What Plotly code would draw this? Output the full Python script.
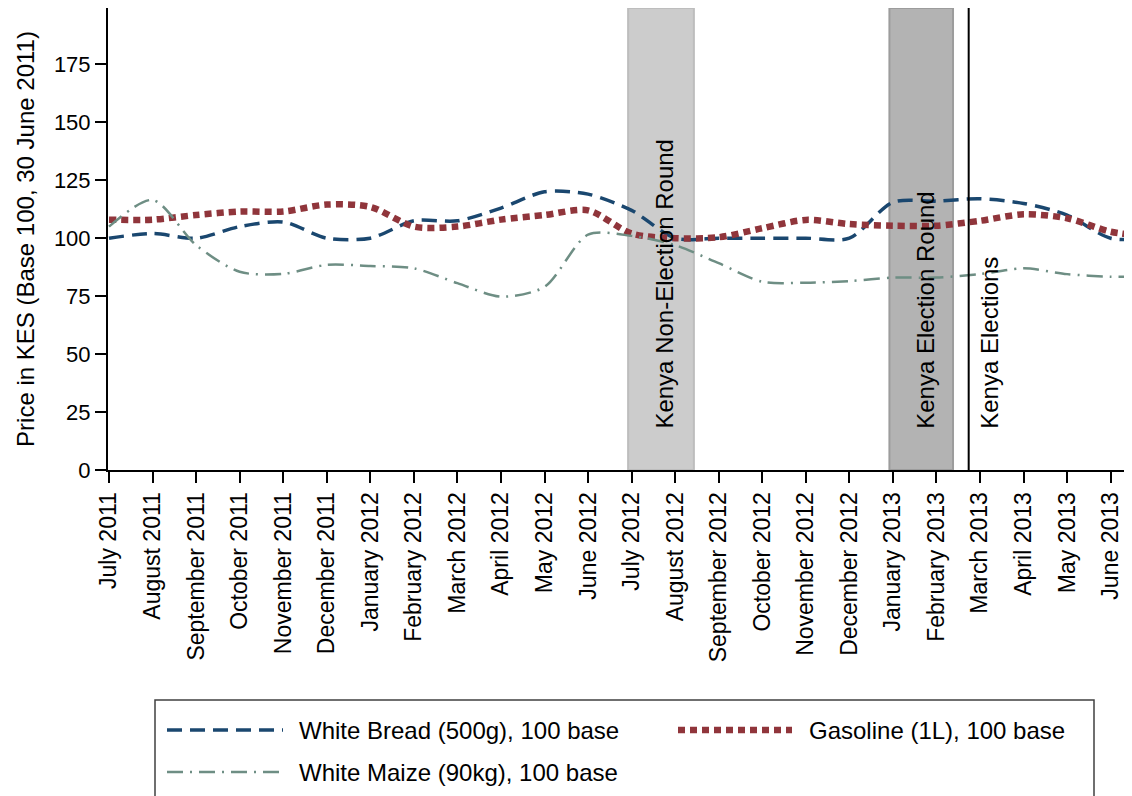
import plotly.graph_objects as go

# ---------------- data ----------------
months = ["July 2011", "August 2011", "September 2011", "October 2011", "November 2011",
          "December 2011", "January 2012", "February 2012", "March 2012", "April 2012",
          "May 2012", "June 2012", "July 2012", "August 2012", "September 2012",
          "October 2012", "November 2012", "December 2012", "January 2013",
          "February 2013", "March 2013", "April 2013", "May 2013", "June 2013", "July 2013"]
month_index = list(range(len(months)))

bread = [100, 102, 100, 105, 107, 100, 100, 107.5, 107.5, 113, 120, 119, 112,
         100, 100, 100, 100, 100, 115.5, 116, 117, 115, 110, 100, 100]
gasoline = [108, 108, 110, 111.5, 111.5, 114.5, 113.5, 105, 105, 108, 110, 112, 102,
            100, 100.4, 104.3, 107.9, 106.1, 105.4, 105.4, 107.5, 110.3, 108.6, 102.8, 100.5]
maize = [105, 116.5, 97, 85.5, 84.6, 88.5, 88, 87, 80.6, 74.8, 79, 101.5, 101,
         97, 89.2, 81.2, 80.8, 81.5, 83, 83, 84.5, 87, 84.5, 83.4, 83.5]

series_names = ["White Bread (500g), 100 base", "Gasoline (1L), 100 base",
                "White Maize (90kg), 100 base"]

period_names = ["Kenya Non-Election Round", "Kenya Election Round"]
period_start = [11.92, 17.92]
period_end = [13.43, 19.38]
election_day = 19.74
election_label = "Kenya Elections"

y_ticks = [0, 25, 50, 75, 100, 125, 150, 175]

# ---------------- style ----------------
FONT = "Arial, Liberation Sans, sans-serif"
C_BREAD = "#1a476f"
C_GAS = "#90353b"
C_MAIZE = "#6e8e84"
D_BREAD = "15px,8px"
D_GAS = "7px,5px"
D_MAIZE = "16px,7px,2px,7px"

OFF = 8  # page body margin
W, H = 1132 - OFF, 796 - OFF
# plot area in screen pixels
SL, SR, ST, SB = 108, 1132, 8, 470
L, R, T, B = SL - OFF, SR - OFF, ST - OFF, SB - OFF


def px(x):
    return (x - SL) / (SR - SL)


def py(y):
    return (SB - y) / (SB - ST)


fig = go.Figure()
fig.add_trace(go.Scatter(x=month_index, y=bread, mode="lines", name=series_names[0],
                         line=dict(color=C_BREAD, width=3.5, dash=D_BREAD, shape="spline", smoothing=0.8),
                         showlegend=False))
fig.add_trace(go.Scatter(x=month_index, y=gasoline, mode="lines", name=series_names[1],
                         line=dict(color=C_GAS, width=6.5, dash=D_GAS, shape="spline", smoothing=0.8),
                         showlegend=False))
fig.add_trace(go.Scatter(x=month_index, y=maize, mode="lines", name=series_names[2],
                         line=dict(color=C_MAIZE, width=2.5, dash=D_MAIZE, shape="spline", smoothing=0.8),
                         showlegend=False))

shapes = []
annotations = []
fills = ["#cccccc", "#b3b3b3"]
borders = ["#bdbdbd", "#9c9c9c"]
for name, s, e, fc, bc in zip(period_names, period_start, period_end, fills, borders):
    shapes.append(dict(type="rect", xref="x", yref="paper", x0=s, x1=e, y0=0, y1=1,
                       fillcolor=fc, line=dict(color=bc, width=2), layer="below"))
    annotations.append(dict(x=(s + e) / 2, y=17, xref="x", yref="y", text=name,
                            textangle=-90, showarrow=False, xanchor="center", yanchor="bottom",
                            xshift=4, font=dict(family=FONT, size=24, color="black")))

shapes.append(dict(type="line", xref="x", yref="paper", x0=election_day, x1=election_day,
                   y0=0, y1=1, line=dict(color="black", width=2)))
annotations.append(dict(x=election_day, y=17, xref="x", yref="y", text=election_label,
                        textangle=-90, showarrow=False, xanchor="left", yanchor="bottom",
                        xshift=5, font=dict(family=FONT, size=24, color="black")))

# ---------------- custom legend (screen pixel positions) ----------------
shapes.append(dict(type="rect", xref="paper", yref="paper", x0=px(155), x1=px(1094),
                   y0=py(806), y1=py(700), line=dict(color="#404040", width=1.5),
                   fillcolor="rgba(0,0,0,0)"))
legend_items = [
    (series_names[0], C_BREAD, 3.5, D_BREAD, 167, 283, 297, 730),
    (series_names[1], C_GAS, 6.5, D_GAS, 678, 792, 807, 730),
    (series_names[2], C_MAIZE, 2.5, D_MAIZE, 167, 283, 297, 772),
]
for name, col, wd, ds, sx0, sx1, tx, ty in legend_items:
    shapes.append(dict(type="line", xref="paper", yref="paper", x0=px(sx0), x1=px(sx1),
                       y0=py(ty), y1=py(ty), line=dict(color=col, width=wd, dash=ds)))
    annotations.append(dict(x=px(tx), y=py(ty), xref="paper", yref="paper", text=name,
                            showarrow=False, xanchor="left", yanchor="middle",
                            font=dict(family=FONT, size=24, color="black")))

fig.update_layout(
    width=W, height=H,
    margin=dict(l=L, r=W - R, t=T, b=H - B, pad=0, autoexpand=False),
    paper_bgcolor="white", plot_bgcolor="white",
    font=dict(family=FONT, size=23, color="black"),
    shapes=shapes, annotations=annotations,
    showlegend=False,
)
fig.update_xaxes(
    range=[-0.023, 23.49], tickmode="array", tickvals=month_index[:-1], ticktext=months[:-1],
    tickangle=-90, ticks="outside", ticklen=11, tickwidth=1.5, tickcolor="black",
    showline=True, linecolor="black", linewidth=2, mirror=True,
    showgrid=False, zeroline=False, tickfont=dict(family=FONT, size=23, color="black"),
)
fig.update_yaxes(
    range=[0, 199.3], tickmode="array", tickvals=y_ticks, ticks="outside", ticklen=11,
    tickwidth=1.5, tickcolor="black", showline=True, linecolor="black", linewidth=2,
    showgrid=False, zeroline=False, tickfont=dict(family=FONT, size=22, color="black"),
    title=dict(text="Price in KES (Base 100, 30 June 2011)", standoff=12,
               font=dict(family=FONT, size=24, color="black")),
)

fig.write_html("out.html")
